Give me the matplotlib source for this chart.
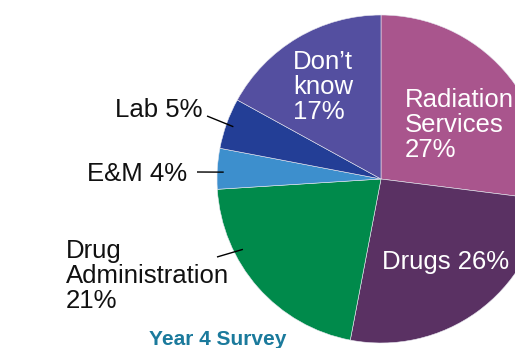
import numpy as np
import matplotlib
matplotlib.use("Agg")
import matplotlib.pyplot as plt

plt.rcParams['font.family'] = ['Liberation Sans', 'DejaVu Sans']

# slices, clockwise from 12 o'clock
labels = ["Radiation\nServices\n27%", "Drugs 26%", "Drug\nAdministration\n21%",
          "E&M 4%", "Lab 5%", "Don\u2019t\nknow\n17%"]
shares = [27, 26, 21, 4, 5, 17]
colors = ["#a9558d", "#5a3163", "#008a4b", "#3d8fcd", "#233e96", "#544fa0"]
title = "Year 4 Survey"

W, H = 515, 348
cx, cy, R = 381, H - 179, 164

fig = plt.figure(figsize=(W / 100, H / 100), dpi=100)
ax = fig.add_axes([0, 0, 1, 1])

ax.pie(shares, colors=colors, startangle=90, counterclock=False,
       center=(cx, cy), radius=R,
       wedgeprops=dict(edgecolor="#e8e8f0", linewidth=0.4))

ax.set_xlim(0, W)
ax.set_ylim(0, H)
ax.axis("off")

fs = 18.5
ls = 1.06
# labels inside the pie (white); y = baseline of last line
inside = {0: (405, 157), 1: (382, 269), 5: (293, 119)}
for i, (x, y) in inside.items():
    ax.text(x, H - y, labels[i], color="white", fontsize=fs, ha="left",
            va="baseline", linespacing=ls)

# labels outside with leader lines: (text x, baseline y, line start, angle, r frac)
outside = {
    4: (115, 117, (207, 116), 160.5, 0.955),
    3: (87, 181, (197, 172), 177.5, 0.96),
    2: (66, 308, (217, 257), -153.0, 0.945),
}
for i, (x, y, (lx, ly), ang, rf) in outside.items():
    ax.text(x, H - y, labels[i], color="#111111", fontsize=fs, ha="left",
            va="baseline", linespacing=ls)
    a = np.deg2rad(ang)
    ex, ey = cx + rf * R * np.cos(a), cy + rf * R * np.sin(a)
    ax.plot([lx, ex], [H - ly, ey], color="black", lw=1.0, solid_capstyle="butt")

ax.text(218, H - 345, title, color="#1b7a9c", fontsize=15, fontweight="bold",
        ha="center", va="baseline")

fig.savefig("out.png", dpi=100)
